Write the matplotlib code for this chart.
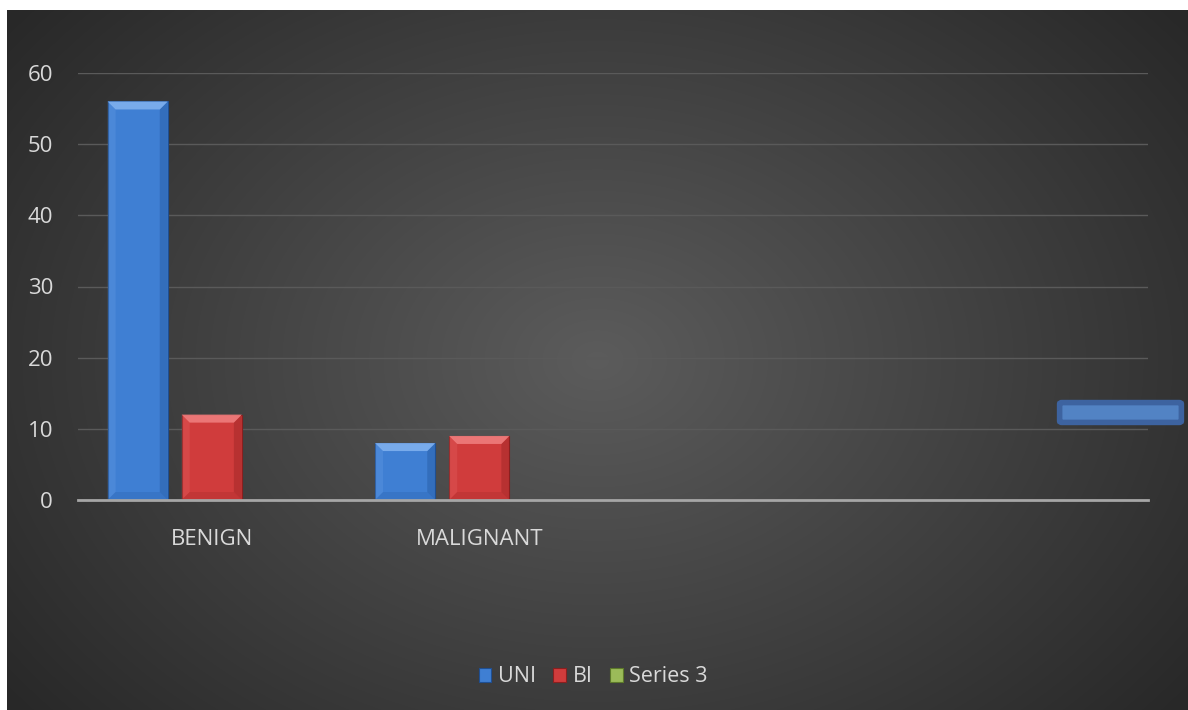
import numpy as np
import matplotlib.pyplot as plt
from matplotlib.patches import Polygon, FancyBboxPatch

# data
categories = ['BENIGN', 'MALIGNANT', '', '']
series_names = ['UNI', 'BI', 'Series 3']
uni = [56, 8, 0, 0]
bi = [12, 9, 0, 0]
series3 = [0, 0, 0, 0]
y_ticks = [0, 10, 20, 30, 40, 50, 60]

colors = ['#3f7fd3', '#d03c3c', '#9bbb59']
light = ['#7fb0ee', '#ef7d7d', '#c7e08a']
dark = ['#1f4f92', '#8a1f1f', '#5d7a2a']
text_color = '#d9d9d9'

W, H = 1188, 710
fig = plt.figure(figsize=(W / 100, H / 100), dpi=100)
fig.patch.set_facecolor('white')

# dark radial gradient background, white margin on left and top
bg = fig.add_axes([7 / W, 0, 1 - 7 / W, 1 - 10 / H])
yy, xx = np.mgrid[0:700, 0:1181]
r = np.sqrt(((xx - 590) / 700.0) ** 2 + ((yy - 350) / 520.0) ** 2)
shade = np.clip(0.36 - 0.19 * r, 0.16, 0.36)
bg.imshow(np.dstack([shade, shade, shade]), aspect='auto', extent=[0, 1, 0, 1], zorder=0)
bg.set_axis_off()

ax = fig.add_axes([78 / W, 1 - 500 / H, (1148 - 78) / W, (500 - 73) / H])
ax.set_facecolor('none')
x = np.arange(len(categories))
width = 0.225
step = 0.277

all_bars = []
for i, vals in enumerate([uni, bi, series3]):
    bars = ax.bar(x + (i - 1) * step, vals, width, color=colors[i],
                  edgecolor=dark[i], linewidth=0.8, zorder=3, label=series_names[i])
    all_bars.append(bars)
ax.set_xlim(-0.5, len(categories) - 0.5)
ax.set_ylim(0, 60)

# bevel: light top, shaded right and bottom edges
inv = ax.transData.inverted()
bev = 8
for i, bars in enumerate(all_bars):
    for b in bars:
        h = b.get_height()
        if h <= 0:
            continue
        x0, x1 = b.get_x(), b.get_x() + b.get_width()
        p0 = ax.transData.transform((x0, h))
        p1 = ax.transData.transform((x1, 0))
        top = [(p0[0], p0[1]), (p1[0], p0[1]), (p1[0] - bev, p0[1] - bev), (p0[0] + bev, p0[1] - bev)]
        right = [(p1[0], p0[1]), (p1[0], p1[1]), (p1[0] - bev, p1[1] + bev), (p1[0] - bev, p0[1] - bev)]
        left = [(p0[0], p0[1]), (p0[0], p1[1]), (p0[0] + bev, p1[1] + bev), (p0[0] + bev, p0[1] - bev)]
        bottom = [(p0[0], p1[1]), (p1[0], p1[1]), (p1[0] - bev, p1[1] + bev), (p0[0] + bev, p1[1] + bev)]
        ax.add_patch(Polygon(inv.transform(left), closed=True, color=light[i], alpha=0.2, lw=0, zorder=4))
        ax.add_patch(Polygon(inv.transform(right), closed=True, color=dark[i], alpha=0.35, lw=0, zorder=4))
        ax.add_patch(Polygon(inv.transform(bottom), closed=True, color=dark[i], alpha=0.2, lw=0, zorder=4))
        ax.add_patch(Polygon(inv.transform(top), closed=True, color=light[i], alpha=0.9, lw=0, zorder=4))

ax.set_yticks(y_ticks)
ax.set_xticks(x)
ax.set_xticklabels(categories)
ax.grid(axis='y', color='#5a5a5a', linewidth=1, zorder=1)
for s in ['top', 'right', 'left']:
    ax.spines[s].set_visible(False)
ax.spines['bottom'].set_color('#a6a6a6')
ax.spines['bottom'].set_linewidth(2)
ax.spines['bottom'].set_zorder(5)
ax.tick_params(axis='both', length=0, colors=text_color, labelsize=16)
ax.tick_params(axis='x', pad=21)
ax.tick_params(axis='y', pad=18)
for t in ax.get_xticklabels() + ax.get_yticklabels():
    t.set_fontfamily('Open Sans')

leg = ax.legend(loc='center', bbox_to_anchor=(593 / W, 1 - 677 / H),
                bbox_transform=fig.transFigure, ncol=3, frameon=False,
                handlelength=0.6, handleheight=0.6, handletextpad=0.3,
                columnspacing=0.8, prop={'family': 'Open Sans', 'size': 15.5})
for t in leg.get_texts():
    t.set_color(text_color)

# stray blue shape at the right edge
fig.patches.append(FancyBboxPatch((1062 / W, 1 - 421 / H), 117 / W, 17 / H,
                                  boxstyle='round,pad=0.002', transform=fig.transFigure,
                                  facecolor='#5283c4', edgecolor='#3d63a0', linewidth=4))

fig.savefig('out.png', dpi=100, facecolor=fig.get_facecolor())
